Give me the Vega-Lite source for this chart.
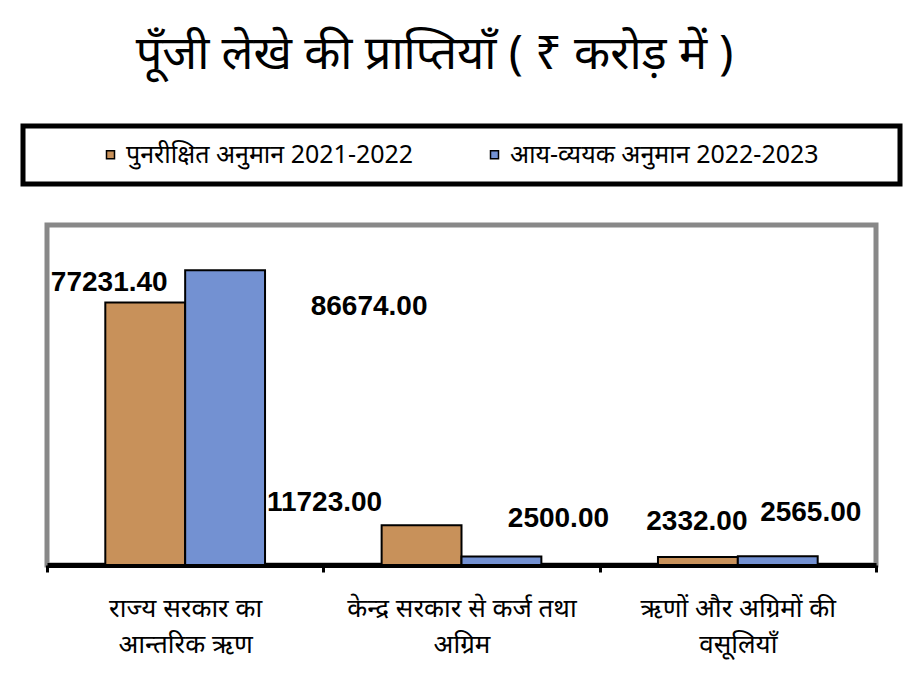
{
  "$schema": "https://vega.github.io/schema/vega-lite/v6.json",
  "autosize": {"type": "none"},
  "width": 829,
  "height": 340,
  "padding": {"left": 47, "top": 225, "right": 33, "bottom": 118},
  "background": "white",
  "title": {
    "text": "पूँजी लेखे की प्राप्तियाँ ( ₹ करोड़ में )",
    "anchor": "middle",
    "frame": "group",
    "orient": "top",
    "offset": 45,
    "dx": -27,
    "font": "Noto Sans",
    "fontSize": 47,
    "fontWeight": "normal",
    "color": "black"
  },
  "config": {
    "view": {"stroke": "#888888", "strokeWidth": 5},
    "font": "Noto Sans"
  },
  "data": {
    "values": [
      {"category": "राज्य सरकार का आन्तरिक ऋण", "series": "पुनरीक्षित अनुमान 2021-2022", "value": 77231.40},
      {"category": "राज्य सरकार का आन्तरिक ऋण", "series": "आय-व्ययक अनुमान 2022-2023", "value": 86674.00},
      {"category": "केन्द्र सरकार से कर्ज तथा अग्रिम", "series": "पुनरीक्षित अनुमान 2021-2022", "value": 11723.00},
      {"category": "केन्द्र सरकार से कर्ज तथा अग्रिम", "series": "आय-व्ययक अनुमान 2022-2023", "value": 2500.00},
      {"category": "ऋणों और अग्रिमों की वसूलियाँ", "series": "पुनरीक्षित अनुमान 2021-2022", "value": 2332.00},
      {"category": "ऋणों और अग्रिमों की वसूलियाँ", "series": "आय-व्ययक अनुमान 2022-2023", "value": 2565.00}
    ]
  },
  "encoding": {
    "x": {
      "field": "category",
      "type": "nominal",
      "sort": ["राज्य सरकार का आन्तरिक ऋण", "केन्द्र सरकार से कर्ज तथा अग्रिम", "ऋणों और अग्रिमों की वसूलियाँ"],
      "scale": {"paddingInner": 0, "paddingOuter": 0},
      "axis": {
        "title": null,
        "labelAngle": 0,
        "domainColor": "black",
        "domainWidth": 5,
        "tickColor": "black",
        "tickWidth": 3,
        "tickSize": 7,
        "tickBand": "extent",
        "labelFont": "Noto Sans",
        "labelFontSize": 26,
        "labelColor": "black",
        "labelPadding": 23,
        "labelLineHeight": 36,
        "labelLimit": 400,
        "labelOverlap": false,
        "labelExpr": "datum.value == 'राज्य सरकार का आन्तरिक ऋण' ? ['राज्य सरकार का', 'आन्तरिक ऋण'] : datum.value == 'केन्द्र सरकार से कर्ज तथा अग्रिम' ? ['केन्द्र सरकार से कर्ज तथा', 'अग्रिम'] : datum.value == 'ऋणों और अग्रिमों की वसूलियाँ' ? ['ऋणों और अग्रिमों की', 'वसूलियाँ'] : ''"
      }
    },
    "xOffset": {
      "field": "series",
      "type": "nominal",
      "scale": {"domain": ["पुनरीक्षित अनुमान 2021-2022", "आय-व्ययक अनुमान 2022-2023"], "paddingInner": 0, "paddingOuter": 0.73}
    },
    "y": {
      "field": "value",
      "type": "quantitative",
      "scale": {"domain": [0, 100000]},
      "axis": null
    }
  },
  "layer": [
    {
      "mark": {"type": "bar", "stroke": "black", "strokeWidth": 2},
      "encoding": {
        "fill": {
          "field": "series",
          "type": "nominal",
          "scale": {"domain": ["पुनरीक्षित अनुमान 2021-2022", "आय-व्ययक अनुमान 2022-2023"], "range": ["#C8915A", "#7391D2"]},
          "legend": {
            "title": " ",
            "titleOrient": "left",
            "titlePadding": 59,
            "orient": "none",
            "direction": "horizontal",
            "legendX": -24,
            "legendY": -99,
            "padding": 16,
            "strokeColor": "black",
            "symbolType": "square",
            "symbolSize": 64,
            "symbolStrokeColor": "black",
            "symbolStrokeWidth": 1.5,
            "symbolOpacity": 1,
            "labelFont": "Noto Sans",
            "labelFontSize": 25,
            "labelColor": "black",
            "labelOffset": 3,
            "labelLimit": 600,
            "columnPadding": 68,
            "labelExpr": "datum.value == 'आय-व्ययक अनुमान 2022-2023' ? datum.label + '\u00a0\u00a0\u00a0\u00a0\u00a0\u00a0\u00a0\u00a0\u00a0\u00a0\u200b' : datum.label",
            "encode": {"legend": {"update": {"strokeWidth": {"value": 5}}}}
          }
        }
      }
    },
    {
      "transform": [{"filter": "datum.value == 77231.40"}],
      "mark": {"type": "text", "font": "Liberation Sans", "fontWeight": "bold", "fontSize": 28, "baseline": "middle", "dx": -36, "dy": -19},
      "encoding": {"text": {"field": "value", "type": "quantitative", "format": ".2f"}}
    },
    {
      "transform": [{"filter": "datum.value == 86674"}],
      "mark": {"type": "text", "font": "Liberation Sans", "fontWeight": "bold", "fontSize": 28, "baseline": "middle", "dx": 144, "dy": 37},
      "encoding": {"text": {"field": "value", "type": "quantitative", "format": ".2f"}}
    },
    {
      "transform": [{"filter": "datum.value == 11723"}],
      "mark": {"type": "text", "font": "Liberation Sans", "fontWeight": "bold", "fontSize": 28, "baseline": "middle", "dx": -97, "dy": -22},
      "encoding": {"text": {"field": "value", "type": "quantitative", "format": ".2f"}}
    },
    {
      "transform": [{"filter": "datum.value == 2500"}],
      "mark": {"type": "text", "font": "Liberation Sans", "fontWeight": "bold", "fontSize": 28, "baseline": "middle", "dx": 57, "dy": -38},
      "encoding": {"text": {"field": "value", "type": "quantitative", "format": ".2f"}}
    },
    {
      "transform": [{"filter": "datum.value == 2332"}],
      "mark": {"type": "text", "font": "Liberation Sans", "fontWeight": "bold", "fontSize": 28, "baseline": "middle", "dx": -1, "dy": -35},
      "encoding": {"text": {"field": "value", "type": "quantitative", "format": ".2f"}}
    },
    {
      "transform": [{"filter": "datum.value == 2565"}],
      "mark": {"type": "text", "font": "Liberation Sans", "fontWeight": "bold", "fontSize": 28, "baseline": "middle", "dx": 33, "dy": -43},
      "encoding": {"text": {"field": "value", "type": "quantitative", "format": ".2f"}}
    }
  ]
}
